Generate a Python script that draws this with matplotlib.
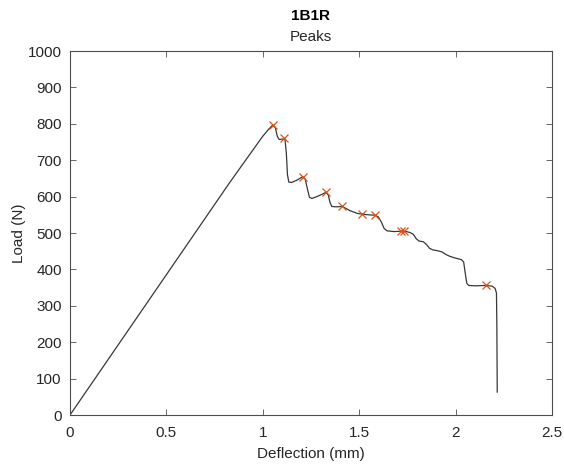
import matplotlib.pyplot as plt

plt.rcParams['font.family'] = ['Liberation Sans', 'DejaVu Sans']

# load-deflection curve
deflection = [0, 0.83, 1.00, 1.03, 1.05, 1.065, 1.075, 1.085, 1.10, 1.115, 1.122, 1.128,
              1.135, 1.15, 1.18, 1.207, 1.22, 1.232, 1.242, 1.255, 1.28, 1.31, 1.328,
              1.34, 1.348, 1.358, 1.38, 1.412, 1.43, 1.45, 1.47, 1.49, 1.513, 1.55,
              1.582, 1.60, 1.615, 1.63, 1.645, 1.68, 1.715, 1.735, 1.76, 1.78, 1.795,
              1.81, 1.833, 1.85, 1.865, 1.88, 1.91, 1.93, 1.95, 1.97, 2.00, 2.03,
              2.042, 2.05, 2.058, 2.068, 2.10, 2.158, 2.19, 2.205, 2.212, 2.214, 2.216]
load = [0, 640, 766, 785, 796, 790, 766, 757, 758, 758, 720, 660,
        640, 639, 646, 655, 648, 620, 598, 595, 600, 607, 612,
        604, 585, 573, 572, 573, 568, 562, 558, 554, 552, 550,
        549, 544, 530, 512, 506, 504, 505, 505, 502, 497, 485,
        478, 476, 468, 458, 454, 451, 448, 441, 436, 431, 427,
        420, 390, 362, 356, 355, 356, 354, 348, 335, 250, 63]

# detected peaks
peak_x = [1.055, 1.110, 1.207, 1.328, 1.412, 1.513, 1.582, 1.715, 1.735, 2.158]
peak_y = [797, 760, 655, 612, 573, 552, 549, 505, 505, 356]

fig = plt.figure(figsize=(5.64, 4.67), dpi=100)
ax = fig.add_axes([0.1241, 0.1113, 0.8546, 0.7794])

ax.plot(deflection, load, color='#383838', lw=0.9)
ax.plot(peak_x, peak_y, 'x', color=(0.85, 0.325, 0.098), ms=5.5, mew=0.9)

ax.set_xlim(0, 2.5)
ax.set_ylim(0, 1000)
ax.set_xticks([0, 0.5, 1, 1.5, 2, 2.5])
ax.set_xticklabels(['0', '0.5', '1', '1.5', '2', '2.5'])
ax.set_yticks(range(0, 1001, 100))

grey = '#262626'
for s in ax.spines.values():
    s.set_color('#4d4d4d')
    s.set_linewidth(0.8)
ax.tick_params(direction='in', length=4, width=0.6, colors='#4d4d4d',
               labelcolor=grey, labelsize=11, top=True, right=True)
ax.tick_params(axis='x', pad=8)
ax.tick_params(axis='y', pad=6)

ax.set_xlabel('Deflection (mm)', fontsize=11, color=grey, labelpad=5)
ax.set_ylabel('Load (N)', fontsize=11, color=grey, labelpad=1)

cx = 0.1241 + 0.8546 / 2
fig.text(cx, 0.966, '1B1R', ha='center', va='center',
         fontsize=11, fontweight='bold', color='black')
fig.text(cx, 0.921, 'Peaks', ha='center', va='center',
         fontsize=11, color=grey)

fig.savefig('out.png', dpi=100)
